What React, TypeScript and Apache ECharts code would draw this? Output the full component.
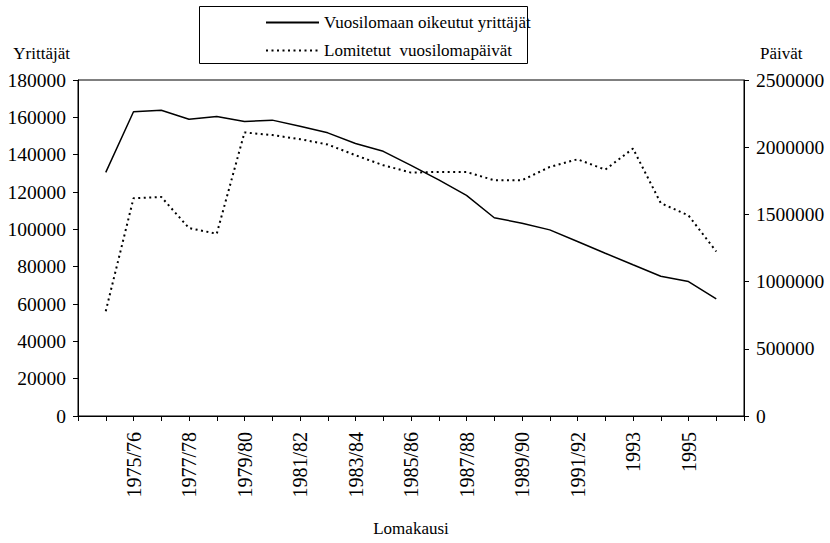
import React, { useEffect, useRef } from "react";
import * as echarts from "echarts";

const categories = [
  "1974/75", "1975/76", "1976/77", "1977/78", "1978/79", "1979/80", "1980/81",
  "1981/82", "1982/83", "1983/84", "1984/85", "1985/86", "1986/87", "1987/88",
  "1988/89", "1989/90", "1990/91", "1991/92", "1992", "1993", "1994", "1995", "1996",
];

const yrittajat = [
  130500, 163000, 163800, 159000, 160500, 157800, 158500, 155200, 151700, 146000,
  141800, 134300, 126500, 118200, 106200, 103300, 99700, 93500, 87200, 81000,
  74900, 72000, 62700,
];

const paivat = [
  780000, 1620000, 1630000, 1398000, 1356000, 2110000, 2090000, 2060000, 2020000,
  1940000, 1866000, 1811000, 1816000, 1816000, 1754000, 1754000, 1853000, 1910000,
  1833000, 1990000, 1584000, 1492000, 1224000,
];

const leftTicks = { min: 0, max: 180000, interval: 20000 };
const rightTicks = { min: 0, max: 2500000, interval: 500000 };

const seriesNames = ["Vuosilomaan oikeutut yrittäjät", "Lomitetut  vuosilomapäivät"];
const axisNames = { left: "Yrittäjät", right: "Päivät", x: "Lomakausi" };

const FONT = "Liberation Serif";

export default function App() {
  const ref = useRef<HTMLDivElement>(null);
  useEffect(() => {
    if (!ref.current) return;
    const chart = echarts.init(ref.current, null, { renderer: "svg" });
    const padCats = [" ", ...categories, "  "];
    const padA = [null, ...yrittajat, null];
    const padB = [null, ...paivat, null];
    chart.setOption({
      animation: false,
      backgroundColor: "#ffffff",
      textStyle: { fontFamily: FONT, color: "#000" },
      grid: {
        left: 78,
        right: 86,
        top: 80,
        bottom: 127,
        show: true,
        borderColor: "#000",
        borderWidth: 1,
        backgroundColor: "transparent",
      },
      legend: {
        orient: "vertical",
        left: 265,
        top: 14,
        padding: 0,
        itemGap: 11,
        itemWidth: 53,
        itemHeight: 12,
        itemStyle: { opacity: 0 },
        textStyle: { fontFamily: FONT, fontSize: 17, color: "#000" },
        data: seriesNames,
      },
      graphic: [
        {
          type: "rect",
          shape: { x: 199.5, y: 6.5, width: 328, height: 57 },
          style: { fill: "none", stroke: "#000", lineWidth: 1 },
          silent: true,
        },
      ],
      xAxis: {
        type: "category",
        data: padCats,
        boundaryGap: false,
        name: axisNames.x,
        nameLocation: "middle",
        nameGap: 104,
        nameTextStyle: { fontFamily: FONT, fontSize: 17, color: "#000" },
        axisLine: { show: true, lineStyle: { color: "#000", width: 1 } },
        axisTick: { show: true, interval: 0, length: 5, lineStyle: { color: "#000" } },
        axisLabel: {
          rotate: 90,
          margin: 16,
          fontFamily: FONT,
          fontSize: 20,
          color: "#000",
          interval: (index: number, value: string) => index % 2 === 0 && value.trim() !== "",
        },
        splitLine: { show: false },
      },
      yAxis: [
        {
          type: "value",
          position: "left",
          ...leftTicks,
          name: axisNames.left,
          nameLocation: "end",
          nameGap: 18,
          nameTextStyle: { fontFamily: FONT, fontSize: 17, color: "#000", align: "right", padding: [0, 8, 0, 0] },
          axisLine: { show: true, lineStyle: { color: "#000", width: 1 } },
          axisTick: { show: true, length: 5, lineStyle: { color: "#000" } },
          axisLabel: {
            margin: 12,
            fontFamily: FONT,
            fontSize: 19.5,
            color: "#000",
            formatter: (v: number) => String(v),
          },
          splitLine: { show: false },
        },
        {
          type: "value",
          position: "right",
          ...rightTicks,
          name: axisNames.right,
          nameLocation: "end",
          nameGap: 18,
          nameTextStyle: { fontFamily: FONT, fontSize: 17, color: "#000", align: "left", padding: [0, 0, 0, 16] },
          axisLine: { show: true, lineStyle: { color: "#000", width: 1 } },
          axisTick: { show: true, length: 5, lineStyle: { color: "#000" } },
          axisLabel: {
            margin: 12,
            fontFamily: FONT,
            fontSize: 19.5,
            color: "#000",
            formatter: (v: number) => String(v),
          },
          splitLine: { show: false },
        },
      ],
      series: [
        {
          name: seriesNames[0],
          type: "line",
          yAxisIndex: 0,
          data: padA,
          symbol: "none",
          connectNulls: false,
          lineStyle: { color: "#000", width: 1.5, type: "solid" },
          itemStyle: { color: "#000" },
        },
        {
          name: seriesNames[1],
          type: "line",
          yAxisIndex: 1,
          data: padB,
          symbol: "none",
          connectNulls: false,
          lineStyle: { color: "#000", width: 2, type: [2, 3.5] },
          itemStyle: { color: "#000" },
        },
      ],
    });
    return () => chart.dispose();
  }, []);
  return (
    <div
      ref={ref}
      style={{ position: "fixed", left: 0, top: 0, width: 830, height: 543, background: "#fff" }}
    />
  );
}
